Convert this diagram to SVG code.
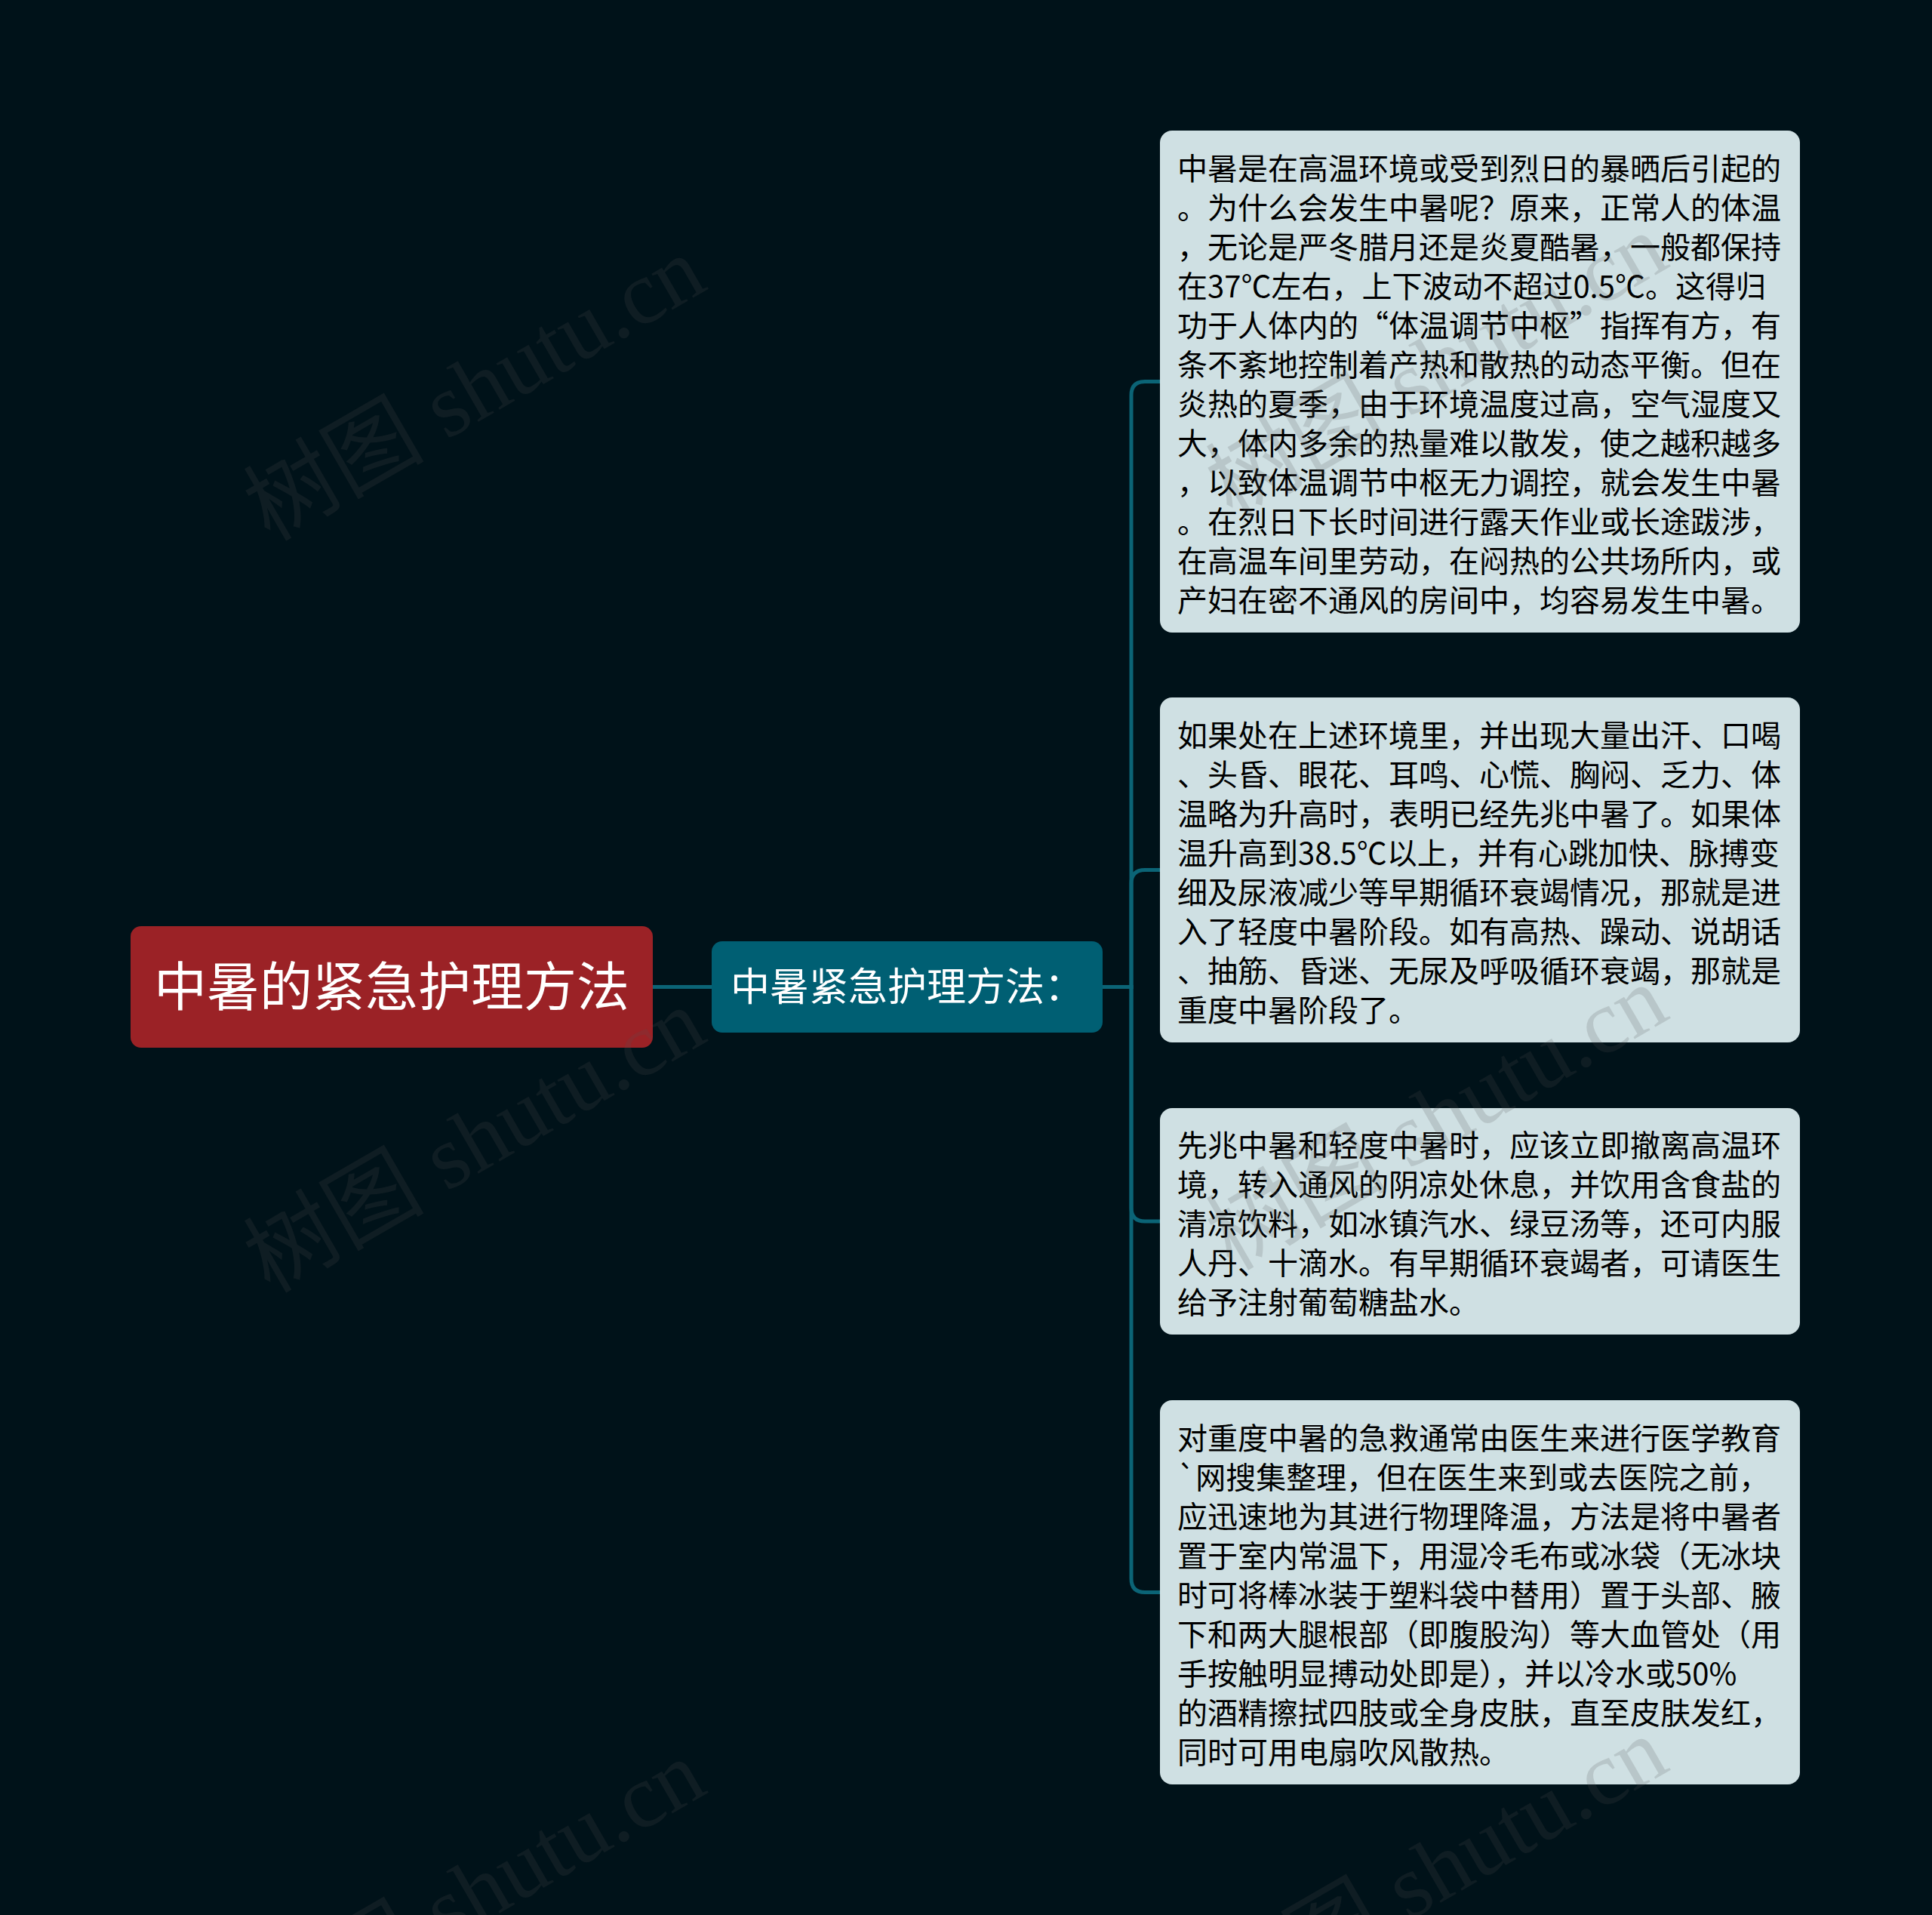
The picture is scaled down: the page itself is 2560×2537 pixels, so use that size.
<svg xmlns="http://www.w3.org/2000/svg" width="2560" height="2537" viewBox="0 0 2560 2537">
<style>
.bg{fill:#001219}
.root rect{fill:#9b2226}
.mid rect{fill:#005f73}
.leaf rect{fill:#cfe0e3}
.root text,.mid text{fill:#ffffff;font-family:"Noto Sans CJK SC","Noto Sans",sans-serif}
.root text{font-size:70px}
.mid text{font-size:52px}
.leaf text{fill:#000000;font-family:"Noto Sans CJK SC","Noto Sans",sans-serif;font-size:40px}
.conn path{fill:none;stroke:#0b6476;stroke-width:5}
.wm text{fill:#555555;fill-opacity:0.18;font-family:"Liberation Serif","Noto Sans CJK SC",serif;font-size:120px;text-anchor:middle}
</style>
<rect class="bg" x="0" y="0" width="2560" height="2537"/>
<g id="connectors" class="conn">
<path d="M865 1307.5 H943"/>
<path d="M1461 1307.5 H1499 V523.5 Q1499 505.5 1517 505.5 H1537"/>
<path d="M1461 1307.5 H1499 V1170.5 Q1499 1152.5 1517 1152.5 H1537"/>
<path d="M1461 1307.5 H1499 V1600 Q1499 1618 1517 1618 H1537"/>
<path d="M1461 1307.5 H1499 V2091.5 Q1499 2109.5 1517 2109.5 H1537"/>
</g>
<g id="root" class="root">
<rect x="173" y="1227" width="692" height="161" rx="14"/>
<text x="519" y="1333" text-anchor="middle">中暑的紧急护理方法</text>
</g>
<g id="mid" class="mid">
<rect x="943" y="1247" width="518" height="121" rx="14"/>
<text x="1202" y="1326" text-anchor="middle">中暑紧急护理方法：</text>
</g>
<g id="leaf1" class="leaf">
<rect x="1537" y="173" width="848" height="665" rx="16"/>
<text x="1560" y="238">中暑是在高温环境或受到烈日的暴晒后引起的</text>
<text x="1560" y="290">。为什么会发生中暑呢？原来，正常人的体温</text>
<text x="1560" y="342">，无论是严冬腊月还是炎夏酷暑，一般都保持</text>
<text x="1560" y="394">在37℃左右，上下波动不超过0.5℃。这得归</text>
<text x="1560" y="446">功于人体内的“体温调节中枢”指挥有方，有</text>
<text x="1560" y="498">条不紊地控制着产热和散热的动态平衡。但在</text>
<text x="1560" y="550">炎热的夏季，由于环境温度过高，空气湿度又</text>
<text x="1560" y="602">大，体内多余的热量难以散发，使之越积越多</text>
<text x="1560" y="654">，以致体温调节中枢无力调控，就会发生中暑</text>
<text x="1560" y="706">。在烈日下长时间进行露天作业或长途跋涉，</text>
<text x="1560" y="758">在高温车间里劳动，在闷热的公共场所内，或</text>
<text x="1560" y="810">产妇在密不通风的房间中，均容易发生中暑。</text>
</g>
<g id="leaf2" class="leaf">
<rect x="1537" y="924" width="848" height="457" rx="16"/>
<text x="1560" y="989">如果处在上述环境里，并出现大量出汗、口喝</text>
<text x="1560" y="1041">、头昏、眼花、耳鸣、心慌、胸闷、乏力、体</text>
<text x="1560" y="1093">温略为升高时，表明已经先兆中暑了。如果体</text>
<text x="1560" y="1145">温升高到38.5℃以上，并有心跳加快、脉搏变</text>
<text x="1560" y="1197">细及尿液减少等早期循环衰竭情况，那就是进</text>
<text x="1560" y="1249">入了轻度中暑阶段。如有高热、躁动、说胡话</text>
<text x="1560" y="1301">、抽筋、昏迷、无尿及呼吸循环衰竭，那就是</text>
<text x="1560" y="1353">重度中暑阶段了。</text>
</g>
<g id="leaf3" class="leaf">
<rect x="1537" y="1468" width="848" height="300" rx="16"/>
<text x="1560" y="1532">先兆中暑和轻度中暑时，应该立即撤离高温环</text>
<text x="1560" y="1584">境，转入通风的阴凉处休息，并饮用含食盐的</text>
<text x="1560" y="1636">清凉饮料，如冰镇汽水、绿豆汤等，还可内服</text>
<text x="1560" y="1688">人丹、十滴水。有早期循环衰竭者，可请医生</text>
<text x="1560" y="1740">给予注射葡萄糖盐水。</text>
</g>
<g id="leaf4" class="leaf">
<rect x="1537" y="1855" width="848" height="509" rx="16"/>
<text x="1560" y="1920">对重度中暑的急救通常由医生来进行医学教育</text>
<text x="1560" y="1972">`网搜集整理，但在医生来到或去医院之前，</text>
<text x="1560" y="2024">应迅速地为其进行物理降温，方法是将中暑者</text>
<text x="1560" y="2076">置于室内常温下，用湿冷毛布或冰袋（无冰块</text>
<text x="1560" y="2128">时可将棒冰装于塑料袋中替用）置于头部、腋</text>
<text x="1560" y="2180">下和两大腿根部（即腹股沟）等大血管处（用</text>
<text x="1560" y="2232">手按触明显搏动处即是），并以冷水或50%</text>
<text x="1560" y="2284">的酒精擦拭四肢或全身皮肤，直至皮肤发红，</text>
<text x="1560" y="2336">同时可用电扇吹风散热。</text>
</g>
<g id="watermarks" class="wm">
<text transform="translate(649 550) rotate(-30)">树图 shutu.cn</text>
<text transform="translate(649 1546) rotate(-30)">树图 shutu.cn</text>
<text transform="translate(649 2542) rotate(-30)">树图 shutu.cn</text>
<text transform="translate(1924 520) rotate(-30)">树图 shutu.cn</text>
<text transform="translate(1924 1516) rotate(-30)">树图 shutu.cn</text>
<text transform="translate(1924 2512) rotate(-30)">树图 shutu.cn</text>
</g>
</svg>
